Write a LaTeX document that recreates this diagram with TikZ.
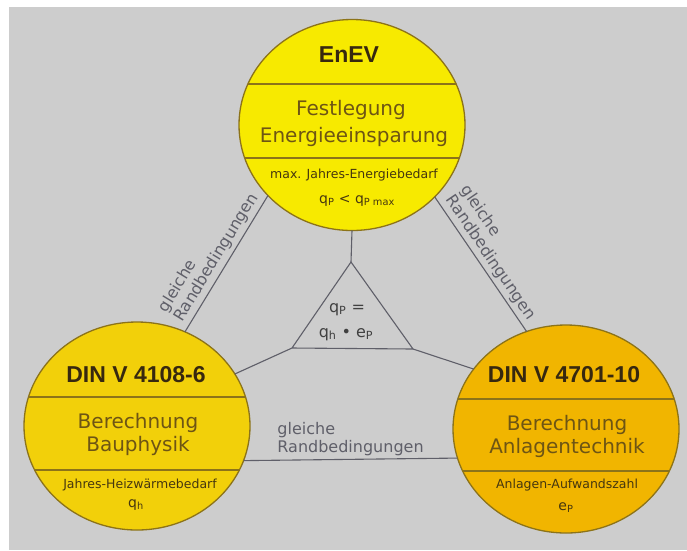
\documentclass[tikz,border=0pt]{standalone}
\usepackage{fontspec}
\setmainfont{DejaVu Sans}
\newfontfamily\titelfont{Liberation Sans}
\usetikzlibrary{shapes.geometric}

\definecolor{bggray}{RGB}{205,205,205}
\definecolor{gelbA}{RGB}{247,234,0}
\definecolor{gelbB}{RGB}{242,208,10}
\definecolor{gelbC}{RGB}{241,181,0}
\definecolor{rand}{RGB}{140,115,25}
\definecolor{titel}{RGB}{55,40,15}
\definecolor{mitte}{RGB}{110,85,20}
\definecolor{klein}{RGB}{70,55,15}
\definecolor{linie}{RGB}{95,95,105}

\begin{document}
\begin{tikzpicture}[x=1pt,y=-1pt,
  kreis/.style={ellipse,draw=rand,line width=1.3pt,minimum width=226pt,minimum height=208pt,inner sep=0pt,outer sep=0pt},
  teiler/.style={rand,line width=1.2pt},
  verbind/.style={linie,line width=1.1pt},
  titeltext/.style={font=\titelfont\bfseries\fontsize{23}{25}\selectfont,text=titel,anchor=base},
  mittext/.style={font=\fontsize{20}{22}\selectfont,text=mitte,anchor=base},
  kleintext/.style={font=\fontsize{12.5}{14}\selectfont,text=klein,anchor=base},
  formel/.style={font=\fontsize{16}{18}\selectfont,text=black!75,anchor=base},
  randtext/.style={font=\fontsize{16}{18}\selectfont,text=linie,align=left}]
 \useasboundingbox (0,0) rectangle (687,550);
 \fill[white] (0,0) rectangle (687,550);
 \fill[bggray] (9,7) rectangle (687,550);
 % Kreise
 \node[kreis,fill=gelbA,minimum height=211pt] (enev) at (352,125) {};
 \node[kreis,fill=gelbB] (bau) at (137,426) {};
 \node[kreis,fill=gelbC] (anl) at (566,429) {};
 \foreach \k/\ry/\ya/\yb in {enev/105.5/84/158, bau/104/397/470, anl/104/399/471}{
  \begin{scope}
   \clip (\k.center) ellipse [x radius=113pt, y radius=\ry pt];
   \draw[teiler] (\k.west |- 0,\ya) -- (\k.east |- 0,\ya) (\k.west |- 0,\yb) -- (\k.east |- 0,\yb);
  \end{scope}}
 % Texte EnEV
 \node[titeltext] (enevT) at (349,62) {EnEV};
 \node[mittext] (enevM1) at (351,115) {Festlegung};
 \node[mittext] (enevM2) at (354,142) {Energieeinsparung};
 \node[kleintext] (enevK1) at (354,178) {max. Jahres-Energiebedarf};
 \node[kleintext,font=\fontsize{14}{16}\selectfont] (enevK2) at (357,203) {q\textsubscript{P} < q\textsubscript{P max}};
 % Texte DIN V 4108-6
 \node[titeltext] (bauT) at (136,382) {DIN V 4108-6};
 \node[mittext] (bauM1) at (138,428) {Berechnung};
 \node[mittext] (bauM2) at (138,451) {Bauphysik};
 \node[kleintext] (bauK1) at (140,488) {Jahres-Heizwärmebedarf};
 \node[kleintext,font=\fontsize{14}{16}\selectfont] (bauK2) at (136,507) {q\textsubscript{h}};
 % Texte DIN V 4701-10
 \node[titeltext] (anlT) at (564,382) {DIN V 4701-10};
 \node[mittext] (anlM1) at (567,430) {Berechnung};
 \node[mittext] (anlM2) at (567,453) {Anlagentechnik};
 \node[kleintext] (anlK1) at (567,488) {Anlagen-Aufwandszahl};
 \node[kleintext,font=\fontsize{14}{16}\selectfont] (anlK2) at (566,510) {e\textsubscript{P}};
 % Dreieck
 \coordinate (tA) at (351,262);
 \coordinate (tL) at (292,348);
 \coordinate (tR) at (413,349);
 \draw[verbind,line join=round] (tA) -- (tL) -- (tR) -- cycle;
 \node[formel] (fq1) at (347,312) {q\textsubscript{P} =};
 \node[formel] (fq2) at (346,337) {q\textsubscript{h} • e\textsubscript{P}};
 \draw[verbind] (tA) -- (enev.south);
 \draw[verbind] (tL) -- (bau.28);
 \draw[verbind] (tR) -- (anl.147);
 % Randbedingungen
 \draw[verbind] (bau.63) -- node[randtext,sloped,above] {gleiche\\Randbedingungen} (enev.220);
 \draw[verbind] (enev.319) -- node[randtext,sloped,above] {gleiche\\Randbedingungen} (anl.112);
 \draw[verbind] (bau.-18) -- node[randtext,above] {gleiche\\Randbedingungen} (anl.195);
\end{tikzpicture}
\end{document}
